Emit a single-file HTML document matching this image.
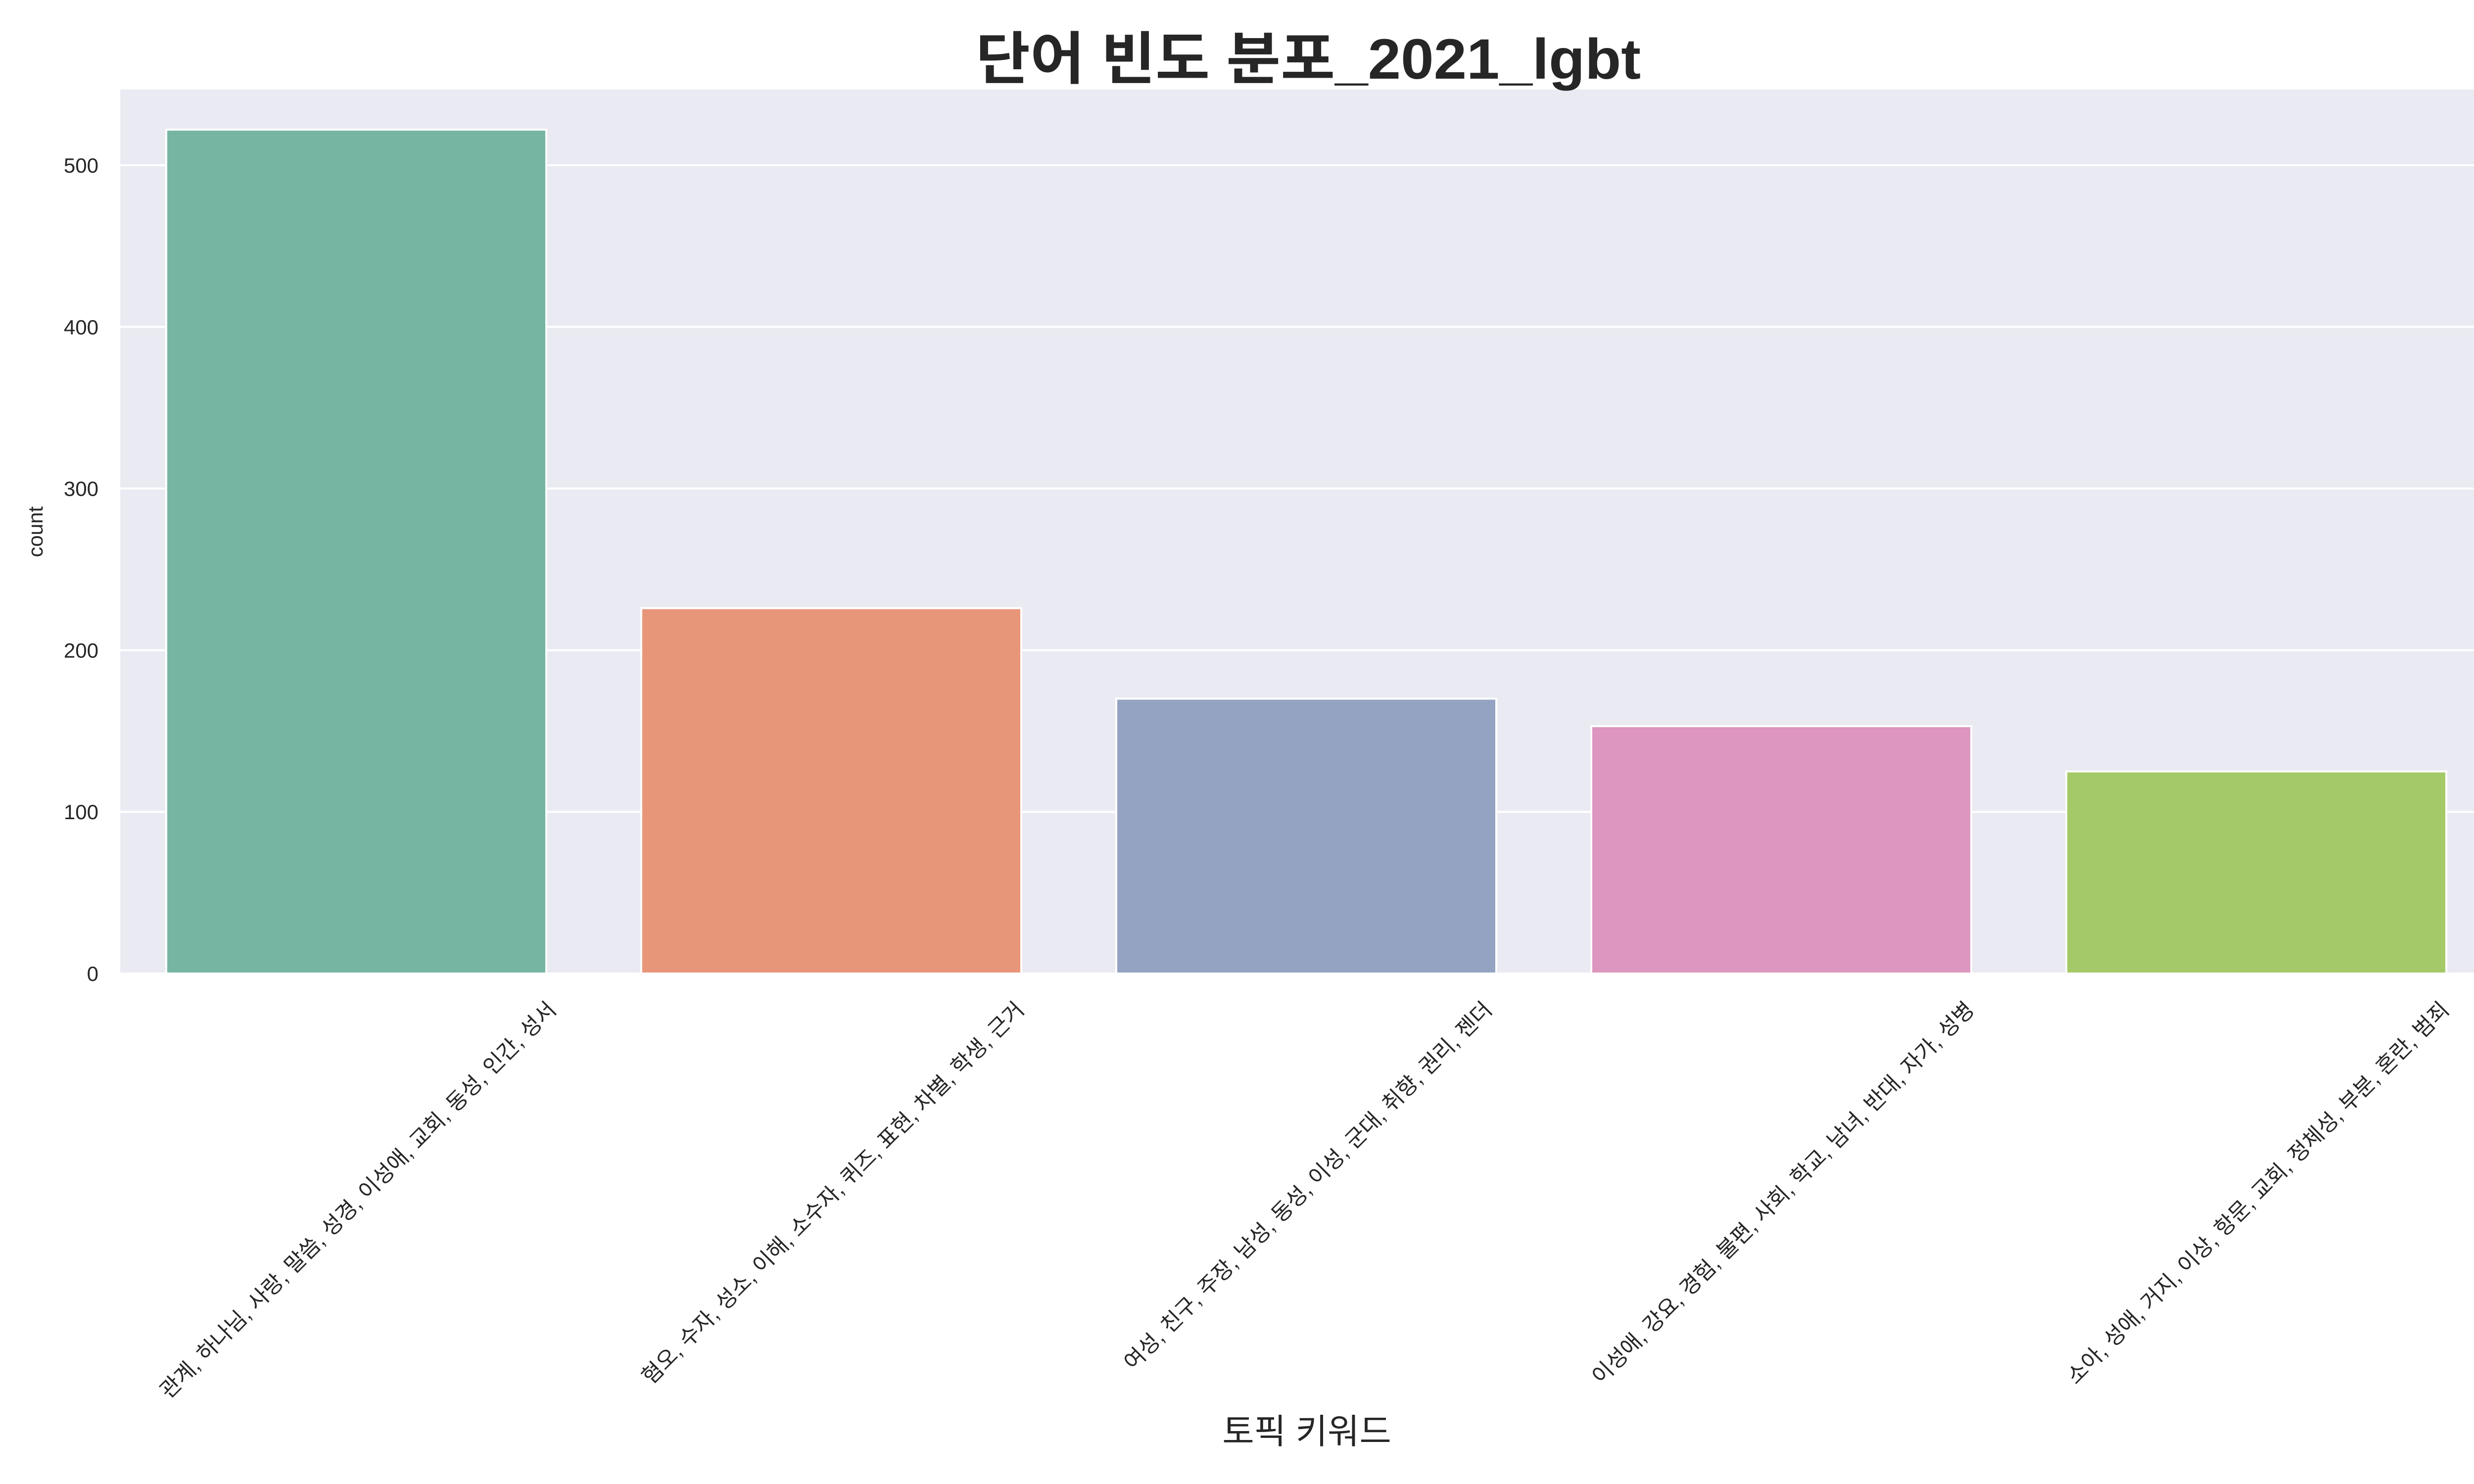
<!DOCTYPE html>
<html><head><meta charset="utf-8"><style>
html,body{margin:0;padding:0;background:#fff;}
svg{display:block;font-family:"Liberation Sans","Noto Sans CJK KR",sans-serif;}
</style></head><body>
<svg id="chart" width="5100" height="3000" viewBox="0 0 5100 3000" xmlns="http://www.w3.org/2000/svg">
<rect x="0" y="0" width="5100" height="3000" fill="#fff"/>
<rect id="plotbg" x="243" y="181" width="4797" height="1787" fill="#eaeaf2"/>
<g id="grid"></g>
<g id="bars"></g>
<g id="yticks"></g>
<g id="xticks"></g>
<text x="2644" y="159" text-anchor="middle" font-size="115" font-weight="bold" fill="#262626" textLength="1344" lengthAdjust="spacingAndGlyphs">단어 빈도 분포_2021_lgbt</text>
<text x="0" y="0" transform="translate(86,1075) rotate(-90)" text-anchor="middle" font-size="42" fill="#262626">count</text>
<text x="2641" y="2918" text-anchor="middle" font-size="70" fill="#262626">토픽 키워드</text>
</svg>
<script>
const categories = ["관계, 하나님, 사랑, 말씀, 성경, 이성애, 교회, 동성, 인간, 성서","혐오, 수자, 성소, 이해, 소수자, 퀴즈, 표현, 차별, 학생, 근거","여성, 친구, 주장, 남성, 동성, 이성, 군대, 취향, 권리, 젠더","이성애, 강요, 경험, 불편, 사회, 학교, 남녀, 반대, 자가, 성병","소아, 성애, 거지, 이상, 항문, 교회, 정체성, 부분, 혼란, 범죄"];
const counts = [522, 226, 170, 153, 125];
const yTicks = [0, 100, 200, 300, 400, 500];
const colors = ["#76b5a1","#e8967a","#94a3c2","#dc96bf","#a4c968"];

const NS = "http://www.w3.org/2000/svg";
const L = 240, R = 5040, T = 181, B = 1968;
function y(v){ return B - v * 3.268; }
function xc(i){ return L + (R - L) / categories.length * (i + 0.5); }
const bw = (R - L) / categories.length * 0.8;

const grid = document.getElementById('grid');
const yt = document.getElementById('yticks');
yTicks.forEach(t => {
  const ln = document.createElementNS(NS,'line');
  ln.setAttribute('x1',243); ln.setAttribute('x2',5040);
  ln.setAttribute('y1',y(t)); ln.setAttribute('y2',y(t));
  ln.setAttribute('stroke','#fff'); ln.setAttribute('stroke-width','4');
  
  
  grid.appendChild(ln);
  const tx = document.createElementNS(NS,'text');
  tx.setAttribute('x',199); tx.setAttribute('y',y(t)+15);
  tx.setAttribute('text-anchor','end'); tx.setAttribute('font-size','42'); tx.setAttribute('fill','#262626');
  tx.textContent = t;
  
  
  yt.appendChild(tx);
});

const bars = document.getElementById('bars');
const xt = document.getElementById('xticks');
categories.forEach((c,i) => {
  const r = document.createElementNS(NS,'rect');
  r.setAttribute('x', xc(i)-bw/2); r.setAttribute('width', bw);
  r.setAttribute('y', y(counts[i])); r.setAttribute('height', y(0)-y(counts[i]));
  r.setAttribute('fill', colors[i]); r.setAttribute('stroke','#fff'); r.setAttribute('stroke-width','4');
  
  
  bars.appendChild(r);
  const tx = document.createElementNS(NS,'text');
  tx.setAttribute('font-size','44'); tx.setAttribute('fill','#262626'); tx.setAttribute('text-anchor','end');
  tx.textContent = c;
  
  
  xt.appendChild(tx);
  const len = tx.getComputedTextLength();
  const w = len * Math.SQRT1_2;
  tx.setAttribute('transform','translate('+(xc(i)+w/2+14)+',2044) rotate(-45)');
});
</script>
</body></html>
